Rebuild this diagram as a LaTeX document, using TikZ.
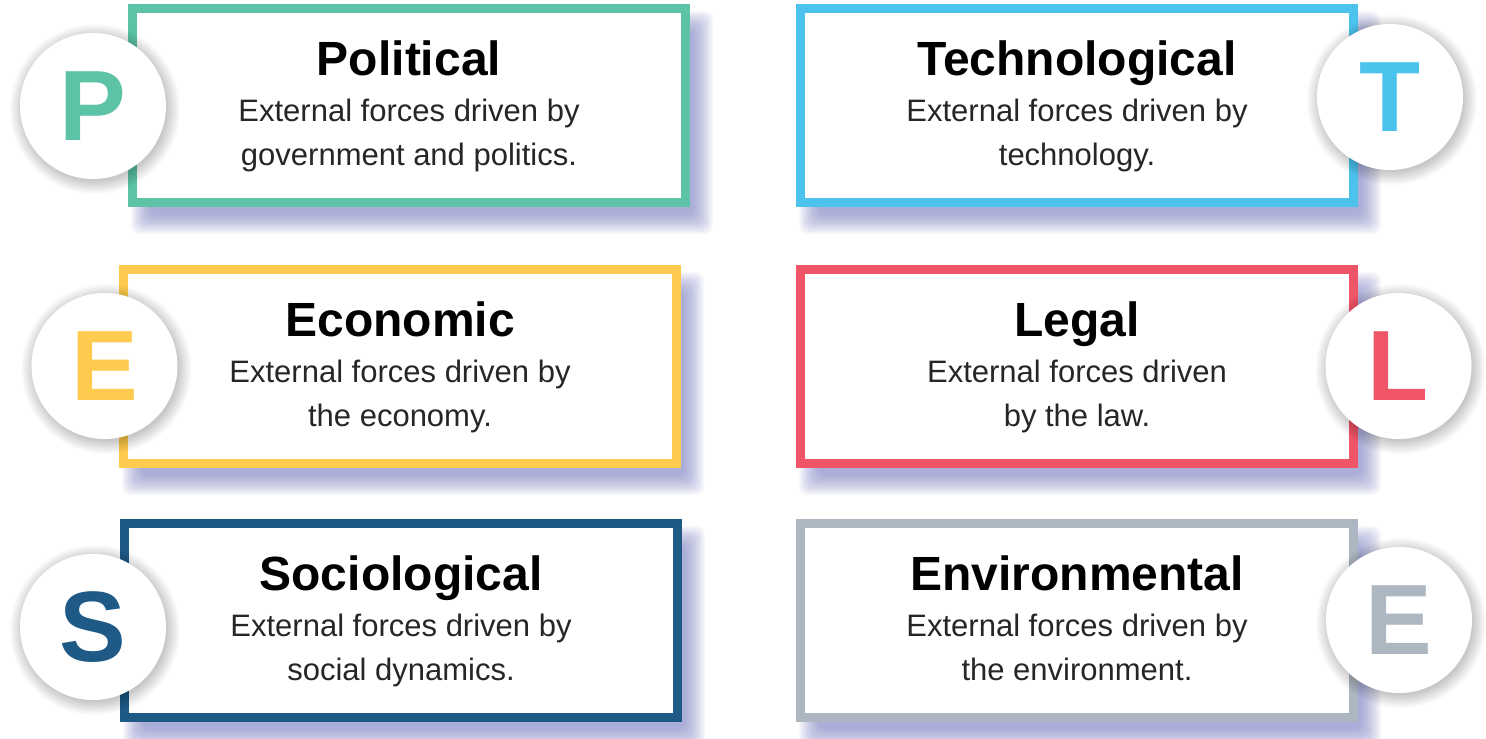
\documentclass[tikz,border=0pt]{standalone}
\usepackage{fontspec}
\setmainfont{Liberation Sans}
\definecolor{cP}{HTML}{5CC3A7}
\definecolor{cT}{HTML}{4CC3EC}
\definecolor{cE}{HTML}{FECB4E}
\definecolor{cL}{HTML}{EF5467}
\definecolor{cS}{HTML}{1F5A87}
\definecolor{cV}{HTML}{ADB7C1}
\definecolor{shadowc}{HTML}{8085C8}
\definecolor{bodyc}{HTML}{262626}
\tikzset{
  cardbox/.style={draw=#1, line width=9bp, fill=white, minimum width=553bp, minimum height=194bp, inner sep=0pt},
  ttl/.style={anchor=base, inner sep=0pt, text=black, font=\fontsize{48bp}{52bp}\selectfont\bfseries},
  bodytxt/.style={anchor=base, inner sep=0pt, text=bodyc, font=\fontsize{31bp}{36bp}\selectfont},
  badge/.style={circle, fill=white, minimum size=146bp, inner sep=0pt, text=#1, font=\fontsize{100bp}{104bp}\selectfont\bfseries}
}
\begin{document}
\begin{tikzpicture}[x=1bp,y=-1bp]
\useasboundingbox (0,0) rectangle (1486,739);
\fill[white] (0,0) rectangle (1486,739);
\foreach \nm/\bl/\bt/\col/\tt/\la/\lb/\cx/\cy/\lt in {
  pol/128/4/cP/Political/External forces driven by/government and politics./93/106/P,
  tec/796/4/cT/Technological/External forces driven by/technology./1390/97/T,
  eco/119/265/cE/Economic/External forces driven by/the economy./104.5/366/E,
  leg/796/265/cL/Legal/External forces driven/by the law./1398.5/366/L,
  soc/120/519/cS/Sociological/External forces driven by/social dynamics./93/627/S,
  env/796/519/cV/Environmental/External forces driven by/the environment./1399/620/E}
{
  % box shadow (soft, layered)
  \foreach \e in {-10,-9,...,10}
    \fill[shadowc, opacity=0.045, rounded corners=8bp] ({\bl+13-\e},{\bt+17-\e}) rectangle ({\bl+562+13+\e},{\bt+203+17+\e});
  % box
  \node[cardbox=\col] (\nm-box) at ({\bl+281},{\bt+101.5}) {};
  \node[ttl] (\nm-title) at ({\bl+281},{\bt+71}) {\tt};
  \node[bodytxt] (\nm-l1) at ({\bl+281},{\bt+117}) {\la};
  \node[bodytxt] (\nm-l2) at ({\bl+281},{\bt+161}) {\lb};
  % badge shadow
  \foreach \e in {0,...,10}
    \fill[black, opacity=0.02] ({\cx+2},{\cy+3}) circle ({72+\e*1.3});
  \node[badge=\col] (\nm-badge) at (\cx,\cy) {\lt};
}
\end{tikzpicture}
\end{document}
